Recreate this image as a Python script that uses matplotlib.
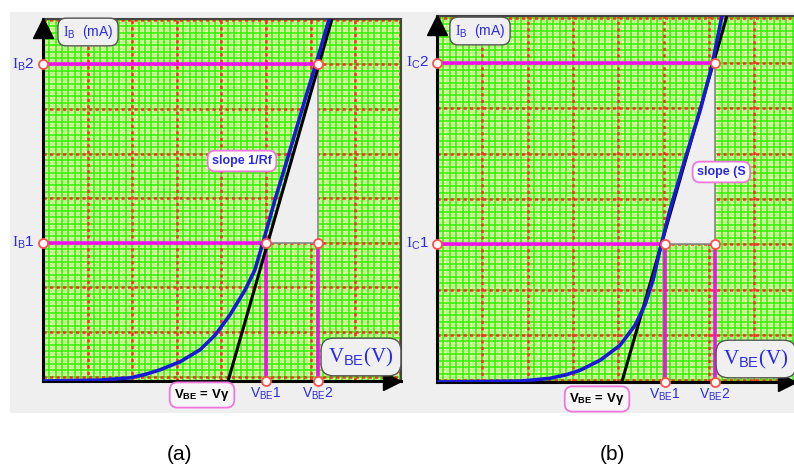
import numpy as np
import matplotlib.pyplot as plt
from matplotlib.patches import Rectangle, Polygon

plt.rcParams['font.family'] = ['Liberation Sans', 'DejaVu Sans']
plt.rcParams['mathtext.fontset'] = 'custom'
plt.rcParams['mathtext.rm'] = 'Liberation Serif'
plt.rcParams['mathtext.sf'] = 'Liberation Sans'
plt.rcParams['mathtext.bf'] = 'Liberation Sans:bold'
plt.rcParams['mathtext.it'] = 'Liberation Serif:italic'

W, H = 794, 468

# ---- data (grid units: one red division = 1) ----
panel_names = ['(a)', '(b)']

# panel (a): input characteristic, slope 1/Rf
curve_a_x = [0.0, 1.28, 1.95, 2.30, 2.62, 3.07, 3.52, 3.86, 4.19, 4.53, 4.75, 4.93, 5.20, 5.54, 5.87, 6.12, 6.41]
curve_a_y = [-0.10, -0.08, -0.03, 0.05, 0.15, 0.33, 0.60, 0.93, 1.38, 1.94, 2.39, 3.00, 3.96, 5.08, 6.20, 7.01, 8.00]
tang_a_x = [4.15, 6.48]
tang_a_y = [-0.10, 8.02]
vbe_a = [5.0, 6.17]
ib_a = [3.0, 7.0]

# panel (b): transfer characteristic, slope S
curve_b_x = [0.0, 1.83, 2.49, 2.85, 3.16, 3.60, 4.04, 4.37, 4.59, 4.77, 4.92, 5.14, 5.47, 5.81, 6.07, 6.29]
curve_b_y = [-0.04, -0.02, 0.04, 0.12, 0.22, 0.44, 0.77, 1.21, 1.66, 2.21, 2.87, 3.75, 4.86, 5.96, 6.95, 8.04]
tang_b_x = [4.08, 6.40]
tang_b_y = [-0.04, 8.04]
vbe_b = [5.03, 6.14]
ic_b = [3.0, 7.0]

BLUE = '#1a1ad6'
TXT = '#2a2ae6'
MAG = '#ee11ee'
PINK = '#ee77dd'


def px(x, y):
    return x / W, 1 - y / H


fig = plt.figure(figsize=(W / 100, H / 100), dpi=100)
fig.patches.append(Rectangle(px(10, 413), (W - 10) / W, (413 - 12) / H,
                             transform=fig.transFigure, facecolor='#efefef',
                             edgecolor='none', zorder=-10))


def draw_grid(ax):
    fine = np.arange(-1, 10, 1 / 14)
    for i, v in enumerate(fine):
        if i % 2 == 0:
            c, lw, z = '#2cf000', 1.1, 0.4
        else:
            c, lw, z = '#bdfa8a', 1.5, 0.3
        ax.axvline(v, color=c, lw=lw, zorder=z)
        ax.axhline(v, color=c, lw=lw, zorder=z)
    for v in range(0, 10):
        ax.axvline(v, color='#ff2a2a', lw=1.8, ls=(0, (1.3, 1.3)), zorder=0.6)
        ax.axhline(v, color='#ff2a2a', lw=1.8, ls=(0, (1.3, 1.3)), zorder=0.6)


def draw_panel(ax, xmax, ylo, yhi, cx, cy, tx, ty, v, i, arrow_x):
    ax.set_facecolor('#f6fdb6')
    ax.set_xlim(0, xmax)
    ax.set_ylim(ylo, yhi)
    ax.set_xticks([])
    ax.set_yticks([])
    for s in ['left', 'bottom']:
        ax.spines[s].set_linewidth(2.2)
        ax.spines[s].set_color('black')
    for s in ['top', 'right']:
        ax.spines[s].set_linewidth(1.5)
        ax.spines[s].set_color('#444444')
    draw_grid(ax)

    # slope triangle
    k = (tx[1] - tx[0]) / (ty[1] - ty[0])
    x_lo = tx[0] + (i[0] - ty[0]) * k
    x_hi = tx[0] + (i[1] - ty[0]) * k
    ax.add_patch(Polygon([(x_lo, i[0]), (v[1], i[0]), (v[1], i[1]), (x_hi, i[1])],
                         closed=True, facecolor='#efefef', edgecolor='#888888',
                         lw=1.2, zorder=1))

    # projection lines
    ax.plot([0, v[0]], [i[0], i[0]], color=MAG, lw=2.6, zorder=3)
    ax.plot([0, v[1]], [i[1], i[1]], color=MAG, lw=2.6, zorder=3)
    ax.plot([v[0], v[0]], [ylo, i[0]], color=MAG, lw=2.6, zorder=3)
    ax.plot([v[1], v[1]], [ylo, i[0]], color=MAG, lw=2.6, zorder=3)

    ax.plot(tx, ty, color='black', lw=2.2, zorder=4, solid_capstyle='butt')
    ax.plot(cx, cy, color=BLUE, lw=2.6, zorder=5)

    mx = [0, 0, v[0], v[1], v[1], v[0], v[1]]
    my = [i[0], i[1], i[0], i[0], i[1], ylo, ylo]
    ax.plot(mx, my, 'o', ms=6.5, mfc='white', mec='#ff5050', mew=1.3,
            zorder=7, clip_on=False)

    # axis arrows
    ax.plot([0], [yhi - 0.2], '^', ms=14, color='black', clip_on=False, zorder=8)
    ax.plot([arrow_x], [ylo], '>', ms=13, color='black', clip_on=False, zorder=8)


ax_a = fig.add_axes([43 / W, 1 - 381 / H, (401 - 43) / W, (381 - 19) / H])
draw_panel(ax_a, (401 - 43) / 44.6, -0.10, 8.02, curve_a_x, curve_a_y,
           tang_a_x, tang_a_y, vbe_a, ib_a, 7.83)

ax_b = fig.add_axes([437 / W, 1 - 382 / H, (801 - 437) / W, (382 - 16) / H])
draw_panel(ax_b, (801 - 437) / 45.3, -0.04, 8.04, curve_b_x, curve_b_y,
           tang_b_x, tang_b_y, vbe_b, ic_b, 7.73)

box_grey = dict(boxstyle='round,pad=0.35,rounding_size=0.6', fc='#f0f0f0', ec='#555555', lw=1.0)
box_pink = dict(boxstyle='round,pad=0.35,rounding_size=0.6', fc='#f6f6f6', ec=PINK, lw=1.3)
box_slope = dict(boxstyle='round,pad=0.35,rounding_size=0.6', fc='white', ec=PINK, lw=1.3)

for ax, v, i, sub in [(ax_a, vbe_a, ib_a, 'B'), (ax_b, vbe_b, ic_b, 'C')]:
    for val, n in zip(i, ['1', '2']):
        ax.annotate(r'$\mathrm{I}_{\mathsf{%s}}$%s' % (sub, n), xy=(0, val), xytext=(-14, 0),
                    textcoords='offset points', ha='center', va='center',
                    fontsize=11, color=TXT, annotation_clip=False)
    for val, n in zip(v, ['1', '2']):
        ax.annotate(r'$\mathsf{V}_{\mathsf{BE}}$%s' % n, xy=(val, ax.get_ylim()[0]), xytext=(0, -9),
                    textcoords='offset points', ha='center', va='center',
                    fontsize=10, color=TXT, annotation_clip=False)

# boxed labels
for cx_, cy_ in [(88, 32), (480, 31)]:
    fig.text(*px(cx_, cy_), r'$\mathrm{I}_{\mathsf{B}}$  (mA)', ha='center', va='center',
             fontsize=10, color=TXT, bbox=box_grey, zorder=10)

for cx_, cy_ in [(361, 357), (756, 359)]:
    fig.text(*px(cx_, cy_), r'$\mathrm{V}_{\mathsf{BE}}\mathrm{(V)}$', ha='center', va='center',
             fontsize=15, color=TXT, bbox=box_grey, zorder=10)

for cx_, cy_ in [(202, 395), (597, 399)]:
    fig.text(*px(cx_, cy_), r'$\mathbf{V}_{\mathbf{BE}}$ = Vγ', ha='center', va='center',
             fontsize=9.5, fontweight='bold', color='black', bbox=box_pink, zorder=10)

fig.text(*px(242, 161), 'slope 1/Rf', ha='center', va='center', fontsize=9,
         fontweight='bold', color=TXT, bbox=box_slope, zorder=10)

fig.text(*px(697, 172), 'slope (S', ha='left', va='center', fontsize=9,
         fontweight='bold', color=TXT, bbox=box_slope, zorder=10)

for (cx_, name) in zip([180, 612], panel_names):
    fig.text(*px(cx_, 455), name, ha='center', va='center', fontsize=15, color='black')

fig.savefig('out.png', dpi=100)
